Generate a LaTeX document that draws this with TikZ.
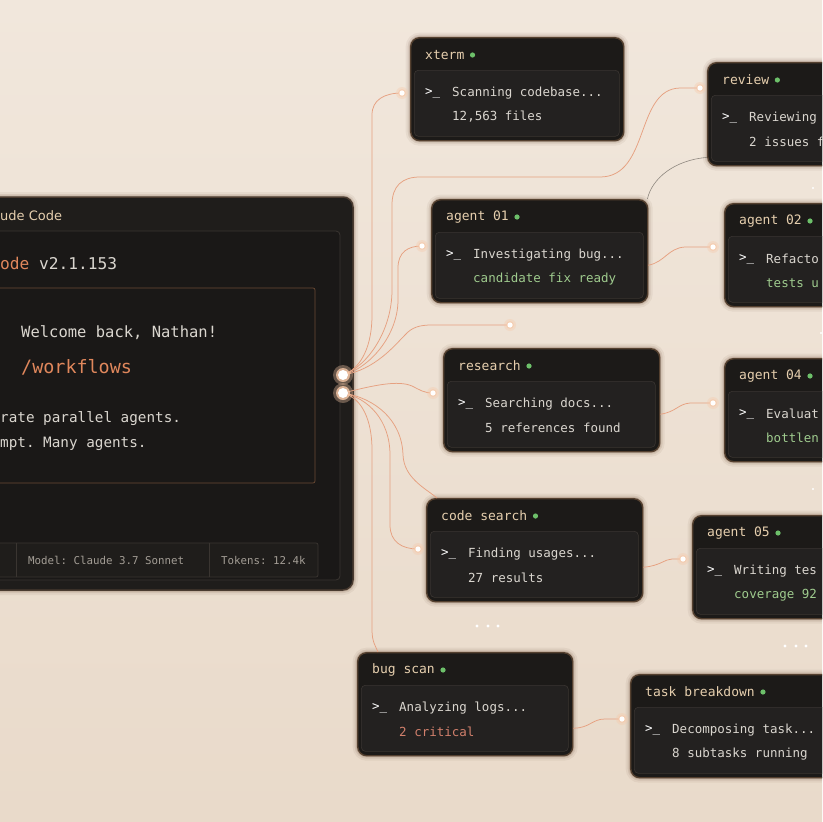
\documentclass[tikz,border=0pt]{standalone}
\usepackage{fontspec}
\setmainfont{DejaVu Sans}
\setmonofont{DejaVu Sans Mono}
\usetikzlibrary{positioning}

\definecolor{fondoA}{HTML}{F1E7DC}
\definecolor{fondoB}{HTML}{E9DACA}
\definecolor{ventana}{HTML}{1F1D1B}
\definecolor{panel}{HTML}{1A1817}
\definecolor{lineaV}{HTML}{3A3531}
\definecolor{bordeV}{HTML}{4A3B30}
\definecolor{caja}{HTML}{1C1A18}
\definecolor{cuerpo}{HTML}{232120}
\definecolor{bordeC}{HTML}{54402F}
\definecolor{tituloC}{HTML}{E6CFAE}
\definecolor{textoC}{HTML}{DAD6CF}
\definecolor{verdeT}{HTML}{9FCB8E}
\definecolor{verde}{HTML}{6DC06A}
\definecolor{naranja}{HTML}{E0875C}
\definecolor{rojo}{HTML}{D2806C}
\definecolor{gris}{HTML}{A39D95}
\definecolor{cable}{HTML}{E6A080}
\definecolor{cablegris}{HTML}{8F8880}
\definecolor{sombra}{HTML}{6A4A34}
\definecolor{brillo}{HTML}{F7C9A9}

\tikzset{
  halo/.style={preaction={draw=sombra, line width=10pt, opacity=.07},
    preaction={draw=sombra, line width=6pt, opacity=.12},
    preaction={draw=sombra, line width=3pt, opacity=.2}},
  termbox/.style={anchor=north west, minimum height=103pt, rounded corners=9pt,
    fill=caja, draw=bordeC, line width=1.4pt, inner sep=0pt, halo},
  termbody/.style={anchor=north west, minimum height=66pt, rounded corners=4pt,
    fill=cuerpo, draw=lineaV, line width=0.6pt, inner sep=0pt},
  termtitle/.style={anchor=west, inner sep=0pt, text=tituloC,
    font=\ttfamily\fontsize{13}{15}\selectfont},
  termtext/.style={anchor=west, inner sep=0pt, text=textoC,
    font=\ttfamily\fontsize{12.5}{15}\selectfont},
  wintext/.style={anchor=west, inner sep=0pt, text=textoC},
  wire/.style={draw=cable, line width=0.75pt},
}

% terminal: nombre, x, y, ancho, titulo, linea 1, linea 2, color linea 2
\newcommand{\terminal}[8]{%
  \node[termbox, minimum width=#4pt] (#1) at (#2,#3) {};
  \node[termbody, minimum width=#4pt-8pt] (#1-body) at ([xshift=4pt,yshift=-33pt]#1.north west) {};
  \node[termtitle] (#1-title) at ([xshift=15pt,yshift=-18pt]#1.north west) {#5};
  \fill[verde] ([xshift=8pt]#1-title.east) circle (2.6pt);
  \node[termtext, text=white] (#1-prompt) at ([xshift=15pt,yshift=-56pt]#1.north west) {>\_};
  \node[termtext] (#1-l1) at ([xshift=42pt,yshift=-56pt]#1.north west) {#6};
  \node[termtext, text=#8] (#1-l2) at ([xshift=42pt,yshift=-80pt]#1.north west) {#7};
}

% puerto luminoso
\newcommand{\puerto}[3]{%
  \coordinate (#1) at (#2,#3);
  \fill[brillo, opacity=.35] (#1) circle (6pt);
  \fill[brillo, opacity=.6] (#1) circle (4pt);
  \fill[white] (#1) circle (2.6pt);
}

\begin{document}
\begin{tikzpicture}[x=1pt,y=-1pt]
	\useasboundingbox (0,0) rectangle (822,822);
	\clip (0,0) rectangle (822,822);
	
	% Fondo
	\shade[top color=fondoA, bottom color=fondoB] (0,0) rectangle (822,822);
	
	% Ventana principal
	\draw[fill=ventana, draw=bordeV, line width=1.5pt, rounded corners=10pt, halo]
		(-20,197) rectangle (353,590);
	\draw[fill=panel, draw=lineaV, line width=0.8pt, rounded corners=4pt] (-20,231) rectangle (340,580);
	\draw[draw=sombra, line width=0.7pt, rounded corners=2pt] (-20,288) rectangle (315,483);
	\draw[fill=ventana, draw=lineaV, line width=0.7pt, rounded corners=2pt] (-20,543) rectangle (318,577);
	\draw[lineaV, line width=0.7pt] (16,543) -- (16,577);
	\draw[lineaV, line width=0.7pt] (209,543) -- (209,577);
	\node[wintext, text=tituloC, font=\rmfamily\fontsize{13}{15}\selectfont] (cc-title) at (0,216) {ude Code};
	\node[wintext, font=\ttfamily\fontsize{16.2}{18}\selectfont] (cc-version) at (0,263) {\textcolor{naranja}{ode} v2.1.153};
	\node[wintext, font=\ttfamily\fontsize{15.5}{18}\selectfont] (cc-welcome) at (21,333) {Welcome back, Nathan!};
	\node[wintext, text=naranja, font=\ttfamily\fontsize{18.4}{20}\selectfont] (cc-cmd) at (21,367) {/workflows};
	\node[wintext, font=\ttfamily\fontsize{14.3}{17}\selectfont] (cc-line1) at (0,419) {rate parallel agents.};
	\node[wintext, font=\ttfamily\fontsize{14.3}{17}\selectfont] (cc-line2) at (0,444) {mpt. Many agents.};
	\node[wintext, text=gris, font=\ttfamily\fontsize{10.8}{13}\selectfont] (cc-model) at (28,560) {Model: Claude 3.7 Sonnet};
	\node[wintext, text=gris, font=\ttfamily\fontsize{10.8}{13}\selectfont] (cc-tokens) at (221,560) {Tokens: 12.4k};
	
	% Terminales
	\terminal{xterm}{410}{37}{213}{xterm}{Scanning codebase...}{12,563 files}{textoC}
	\terminal{review}{707}{62}{140}{review}{Reviewing}{2 issues f}{textoC}
	\terminal{agent01}{431}{199}{216}{agent 01}{Investigating bug...}{candidate fix ready}{verdeT}
	\terminal{agent02}{724}{203}{120}{agent 02}{Refacto}{tests u}{verdeT}
	\terminal{research}{443}{348}{216}{research}{Searching docs...}{5 references found}{textoC}
	\terminal{agent04}{724}{358}{120}{agent 04}{Evaluat}{bottlen}{verdeT}
	\terminal{codesearch}{426}{498}{216}{code search}{Finding usages...}{27 results}{textoC}
	\terminal{agent05}{692}{515}{150}{agent 05}{Writing tes}{coverage 92}{verdeT}
	\terminal{bugscan}{357}{652}{215}{bug scan}{Analyzing logs...}{2 critical}{rojo}
	\terminal{taskbreakdown}{630}{674}{215}{task breakdown}{Decomposing task...}{8 subtasks running}{textoC}
	
	% Puntos de salida y llegada
	\coordinate (agent01-out) at ([yshift=-14pt]agent01.east);
	\coordinate (research-out) at ([yshift=-14pt]research.east);
	\coordinate (codesearch-out) at ([yshift=-17pt]codesearch.east);
	\coordinate (bugscan-out) at ([yshift=-24pt]bugscan.east);
	\coordinate (codesearch-top) at ([xshift=11pt]codesearch.north west);
	\coordinate (bugscan-top) at ([xshift=21pt]bugscan.north west);
	\coordinate (review-sw) at ([yshift=9pt]review.south west);
	\coordinate (agent01-ne) at ([xshift=-1pt]agent01.north east);
	\coordinate (hubA) at (343,375);
	\coordinate (hubB) at (343,393);
	
	% Cables desde el nodo central
	\draw[wire] (hubA) .. controls (362,368) and (372,345) .. (372,315) -- (372,115) .. controls (372,100) and (384,93) .. (402,93);
	\draw[wire] (hubA) .. controls (368,366) and (392,330) .. (392,290) -- (392,205) .. controls (392,186) and (402,177) .. (420,177) -- (600,177) .. controls (650,177) and (635,89) .. (680,88) -- (700,88);
	\draw[wire] (hubA) .. controls (370,368) and (398,335) .. (398,300) -- (398,268) .. controls (398,252) and (408,246) .. (422,246);
	\draw[wire] (hubA) .. controls (375,370) and (395,345) .. (405,335) .. controls (412,327) and (420,325) .. (432,325) -- (510,325);
	\draw[wire] (hubB) .. controls (375,385) and (398,380) .. (412,386) .. controls (420,390) and (424,393) .. (433,393);
	\draw[wire] (hubB) .. controls (368,398) and (390,420) .. (390,455) -- (390,525) .. controls (390,542) and (402,549) .. (418,549);
	\draw[wire] (hubB) .. controls (375,398) and (402,420) .. (403,455) .. controls (404,478) and (425,488) .. (codesearch-top);
	\draw[wire] (hubB) .. controls (362,398) and (372,420) .. (372,450) -- (372,630) .. controls (372,642) and (376,647) .. (bugscan-top);
	
	% Cables entre terminales
	\draw[wire] (agent01-out) .. controls (665,262) and (668,248) .. (685,247) -- (713,247);
	\draw[wire] (research-out) .. controls (676,412) and (678,404) .. (690,403) -- (713,403);
	\draw[wire] (codesearch-out) .. controls (660,566) and (665,559) .. (672,559) -- (683,559);
	\draw[wire] (bugscan-out) .. controls (590,728) and (592,719) .. (605,719) -- (622,719);
	\draw[draw=cablegris, line width=0.6pt] (review-sw) .. controls (675,160) and (652,178) .. (agent01-ne);
	
	% Puertos luminosos
	\puerto{xterm-in}{402}{93}
	\puerto{review-in}{700}{88}
	\puerto{agent01-in}{422}{246}
	\puerto{agent02-in}{713}{247}
	\puerto{libre}{510}{325}
	\puerto{research-in}{433}{393}
	\puerto{agent04-in}{713}{403}
	\puerto{codesearch-in}{418}{549}
	\puerto{agent05-in}{683}{559}
	\puerto{taskbreakdown-in}{622}{719}
	
	% Nodo central
	\fill[brillo, opacity=.35] (hubA) circle (10pt);
	\fill[brillo, opacity=.35] (hubB) circle (10pt);
	\fill[brillo, opacity=.8] (hubA) circle (7pt);
	\fill[brillo, opacity=.8] (hubB) circle (7pt);
	\fill[white] (hubA) circle (5pt);
	\fill[white] (hubB) circle (5pt);
	
	% Puntos suspensivos
	\fill[white] (477,626) circle (1.7pt);
	\fill[white] (488,626) circle (1.7pt);
	\fill[white] (498,626) circle (1.7pt);
	\fill[white] (785,646) circle (1.7pt);
	\fill[white] (796,646) circle (1.7pt);
	\fill[white] (806,646) circle (1.7pt);
	\fill[white] (813,188) circle (1.2pt);
	\fill[white] (821,333) circle (1.2pt);
	\fill[white] (813,489) circle (1.2pt);
\end{tikzpicture}
\end{document}
